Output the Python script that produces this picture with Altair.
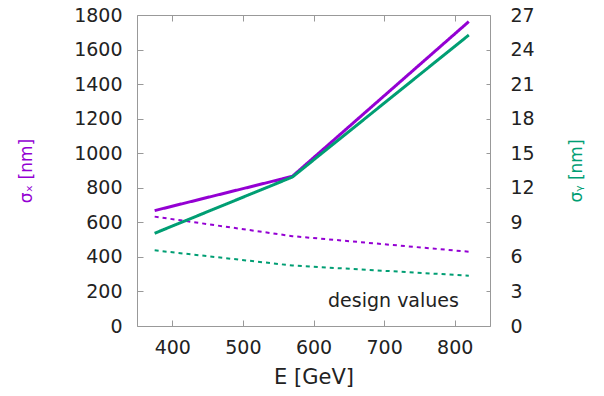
import altair as alt
import pandas as pd

# ---- data ----
E = [375, 570, 820]
sigx_scenario = [668, 866, 1762]
sigx_design = [633, 520, 430]
sigy_scenario = [8.05, 12.93, 25.26]
sigy_design = [6.57, 5.25, 4.37]
series = ["scenario", "design"]

x_ticks = [400, 500, 600, 700, 800]
yl_ticks = [0, 200, 400, 600, 800, 1000, 1200, 1400, 1600, 1800]
yr_ticks = [0, 3, 6, 9, 12, 15, 18, 21, 24, 27]

note_text = ["design values"]
note_E = [806]
note_sigx = [108]

PURPLE = "#9400d3"
GREEN = "#009e73"
FONT = "DejaVu Sans"

dfx = pd.DataFrame({
    "E": E * 2,
    "v": sigx_scenario + sigx_design,
    "series": ["scenario"] * 3 + ["design"] * 3,
})
dfy = pd.DataFrame({
    "E": E * 2,
    "v": sigy_scenario + sigy_design,
    "series": ["scenario"] * 3 + ["design"] * 3,
})
dfn = pd.DataFrame({"E": note_E, "v": note_sigx, "label": note_text})

xscale = alt.Scale(domain=[350, 850], nice=False, zero=False)

x_bottom = alt.X(
    "E:Q", scale=xscale,
    axis=alt.Axis(values=x_ticks, orient="bottom", offset=-6, tickSize=6,
                  domain=False, grid=False, labelPadding=12, format="d",
                  title="E [GeV]", titlePadding=9, titleFontSize=21),
)
x_top = alt.X(
    "E:Q", scale=xscale,
    axis=alt.Axis(values=x_ticks, orient="top", offset=-6, tickSize=6,
                  domain=False, grid=False, labels=False, title=None),
)
y_left = alt.Y(
    "v:Q", scale=alt.Scale(domain=[0, 1800], nice=False),
    axis=alt.Axis(values=yl_ticks, orient="left", offset=-6, tickSize=6,
                  domain=False, grid=False, labelPadding=15, format="d",
                  title="σₓ [nm]", titleColor=PURPLE, titleFontSize=17,
                  titleAngle=270, titleX=-117, titleY=155.5,
                  titleAlign="center", titleBaseline="middle"),
)
y_right = alt.Y(
    "v:Q", scale=alt.Scale(domain=[0, 27], nice=False),
    axis=alt.Axis(values=yr_ticks, orient="right", offset=-4, tickSize=4,
                  domain=False, grid=False, labelPadding=20, format="d",
                  title="σᵧ [nm]", titleColor=GREEN, titleFontSize=17,
                  titleAngle=270, titleX=90, titleY=155.5,
                  titleAlign="center", titleBaseline="middle"),
)

dash = alt.StrokeDash("series:N", scale=alt.Scale(domain=series, range=[[1, 0], [4, 4]]), legend=None)
sw = alt.StrokeWidth("series:N", scale=alt.Scale(domain=series, range=[3, 2]), legend=None)

left_lines = alt.Chart(dfx).mark_line(color=PURPLE).encode(
    x=x_bottom, y=y_left, strokeDash=dash, strokeWidth=sw, detail="series:N"
)
note = alt.Chart(dfn).mark_text(
    align="right", baseline="alphabetic", fontSize=19, font=FONT, color="#222"
).encode(x=x_bottom, y=y_left, text="label:N")

left = alt.layer(left_lines, note)

right = alt.Chart(dfy).mark_line(color=GREEN).encode(
    x=x_top, y=y_right, strokeDash=dash, strokeWidth=sw, detail="series:N"
)

chart = alt.layer(left, right).resolve_scale(
    x="independent", y="independent", strokeDash="shared", strokeWidth="shared"
).properties(
    width=353, height=311,
    autosize=alt.AutoSizeParams(type="none"),
    padding={"left": 129, "top": 7, "right": 106, "bottom": 62},
).configure_view(
    stroke="#999", strokeWidth=1
).configure_axis(
    labelFont=FONT, titleFont=FONT, labelColor="#222", titleColor="#222",
    tickColor="#999", labelFontSize=19, titleFontWeight="normal"
)

chart.save("out.html", embed_options={"renderer": "svg", "actions": False})
